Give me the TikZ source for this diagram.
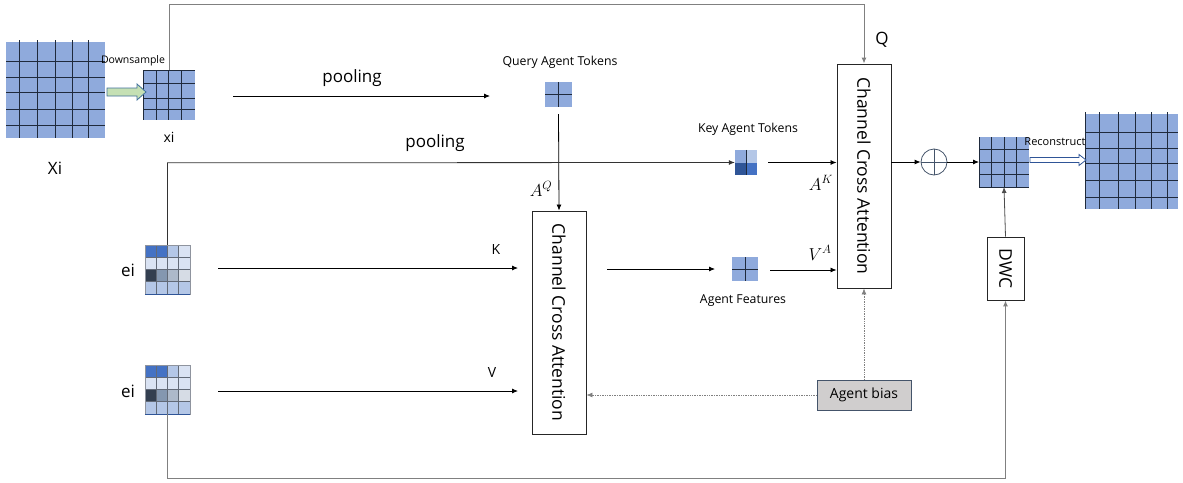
\documentclass[tikz,border=0pt]{standalone}
\usepackage{fontspec}
\setmainfont{Open Sans}
\usetikzlibrary{arrows.meta,calc}
\definecolor{gblue}{HTML}{8FAADC}
\definecolor{gridc}{HTML}{1F2A3C}
\definecolor{sA}{HTML}{4472C4}
\definecolor{lA}{HTML}{B4C7E7}
\definecolor{vA}{HTML}{DAE3F3}
\definecolor{dA}{HTML}{333F50}
\definecolor{gA}{HTML}{8497B0}
\definecolor{hA}{HTML}{ADB9CA}
\definecolor{eA}{HTML}{D6DCE5}
\definecolor{kA}{HTML}{2F5597}
\definecolor{dsfill}{HTML}{C5E0B4}
\definecolor{dsline}{HTML}{41719C}
\definecolor{loopc}{HTML}{808080}
\definecolor{biasfill}{HTML}{D0CECE}
\definecolor{biasline}{HTML}{44546A}
\begin{document}
\begin{tikzpicture}[x=1pt,y=-1pt,
  gl/.style={draw=gridc, line width=0.8pt},
  cell/.style={inner sep=0pt, outer sep=0pt, fill=gblue},
  arr/.style={-{Latex[length=6pt,width=5pt]}, line width=0.8pt, draw=black},
  loopline/.style={-{Latex[length=6pt,width=5pt]}, draw=loopc, line width=1pt},
  box/.style={draw=black!85, line width=0.9pt, inner sep=0pt, fill=white},
  lbl/.style={inner sep=0pt, outer sep=0pt},
  dotarr/.style={-{Latex[length=6pt,width=5pt]}, densely dotted, draw=gray, line width=0.7pt},
  cca/.style={font=\fontsize{17.5}{20}\selectfont},
  big/.style={font=\fontsize{17}{19}\selectfont},
  med/.style={font=\fontsize{14}{16}\selectfont},
  mth/.style={font=\fontsize{16.5}{18}\selectfont},
  small/.style={font=\fontsize{12.3}{14}\selectfont},
]
\useasboundingbox (0,0) rectangle (1183,482);

% ---------- grids ----------
\node[cell, minimum width=99pt, minimum height=96pt] (Xi) at (55.5,90) {};
\foreach \x in {19,37,55,72,88} \draw[gl] (\x,40) -- (\x,138);
\foreach \y in {61,77,92,109,125} \draw[gl] (6,\y) -- (105,\y);

\node[cell, minimum width=52pt, minimum height=50pt] (xi) at (169,95) {};
\foreach \x in {143,156,168,181} \draw[gl] (\x,70) -- (\x,120);
\foreach \y in {70,83,98,109} \draw[gl] (143,\y) -- (195,\y);

\node[cell, minimum width=50pt, minimum height=50pt] (mid) at (1004,162) {};
\foreach \x in {979,991.5,1004,1016.5} \draw[gl] (\x,137) -- (\x,187);
\foreach \y in {149.5,162,174.5,187} \draw[gl] (979,\y) -- (1029,\y);

\node[cell, minimum width=93pt, minimum height=95pt] (out) at (1131.5,161.5) {};
\foreach \x in {1085,1099,1118,1135,1151,1167} \draw[gl] (\x,112) -- (\x,209);
\foreach \y in {132,148,163,180,197} \draw[gl] (1085,\y) -- (1178,\y);

\node[cell, minimum width=27pt, minimum height=25pt] (qat) at (558.5,94.5) {};
\draw[gl, line width=0.7pt] (qat.north) -- (qat.south);
\draw[gl, line width=0.7pt] (qat.west) -- (qat.east);

\node[cell, minimum width=26pt, minimum height=24pt] (af) at (745,269) {};
\draw[gl, line width=0.7pt] (af.north) -- (af.south);
\draw[gl, line width=0.7pt] (af.west) -- (af.east);

\node[inner sep=0pt, minimum width=22pt, minimum height=25pt] (kat) at (746,162.5) {};
\fill[gblue] (kat.north west) rectangle (kat.center);
\fill[lA] (kat.north) rectangle (kat.east);
\fill[kA] (kat.west) rectangle (kat.south);
\fill[sA] (kat.center) rectangle (kat.south east);
\draw[gl, line width=0.7pt] (kat.north) -- (kat.south);

\foreach \nm/\cy in {ei1/269.5, ei2/389.5}{
  \node[inner sep=0pt, minimum width=45pt, minimum height=49pt] (\nm) at (167.5,\cy) {};
  \foreach \r/\cl in {0/{sA,sA,lA,vA}, 1/{vA,vA,vA,vA}, 2/{dA,gA,hA,eA}, 3/{lA,lA,lA,lA}}{
    \foreach \c [count=\j from 0] in \cl {
      \fill[\c] ($(\nm.north west)+(\j*11.25,\r*12.25)$) rectangle ++(11.25,12.25);
    }
  }
  \foreach \k in {1,2,3}{
    \draw[gridc!70, line width=0.6pt] ($(\nm.north west)+(\k*11.25,0)$) -- ++(0,49);
    \draw[gridc!70, line width=0.6pt] ($(\nm.north west)+(0,\k*12.25)$) -- ++(45,0);
  }
  \draw[gridc!50, line width=0.5pt] (\nm.north west) rectangle (\nm.south east);
  \draw[kA, line width=1pt] (\nm.south west) -- (\nm.south east);
}

% ---------- boxes ----------
\node[box, minimum width=54pt, minimum height=223pt] (cca1) at (559,322.5) {};
\node[lbl, rotate=-90, cca] (cca1t) at (cca1.center) {Channel Cross Attention};
\node[box, minimum width=54pt, minimum height=224pt] (cca2) at (864,176) {};
\node[lbl, rotate=-90, cca] (cca2t) at (cca2.center) {Channel Cross Attention};
\node[box, minimum width=37pt, minimum height=63pt] (dwc) at (1005.5,268.5) {};
\node[lbl, rotate=-90, cca] (dwct) at (dwc.center) {DWC};
\node[draw=biasline, fill=biasfill, line width=0.8pt, inner sep=0pt, minimum width=94pt, minimum height=30pt, font=\fontsize{14}{16}\selectfont] (bias) at (864,395) {Agent bias};

\node[circle, draw=biasline, line width=0.8pt, minimum size=26pt, inner sep=0pt] (plus) at (934,162) {};
\draw[biasline, line width=0.8pt] (plus.north) -- (plus.south) (plus.west) -- (plus.east);

% ---------- labels ----------
\node[lbl, font=\fontsize{10.5}{12}\selectfont] (dsl) at (133,61) {Downsample};
\node[lbl, med] (xil) at (169,137) {xi};
\node[lbl, big] (Xil) at (55,168) {Xi};
\node[lbl, big] (ql) at (882,40) {Q};
\node[lbl, big] (pool1) at (352,78) {pooling};
\node[lbl, big] (pool2) at (435,143) {pooling};
\node[lbl, small] (qatl) at (560,62) {Query Agent Tokens};
\node[lbl, small] (katl) at (748,129) {Key Agent Tokens};
\node[lbl, small] (afl) at (743,301) {Agent Features};
\node[lbl, mth] (aq) at (541,189) {$A^{Q}$};
\node[lbl, mth] (ak) at (821,183) {$A^{K}$};
\node[lbl, mth] (va) at (820,253) {$V^{A}$};
\node[lbl, med] (kl) at (496,249) {K};
\node[lbl, med] (vl) at (492,372) {V};
\node[lbl, big] (ei1l) at (128,270) {ei};
\node[lbl, big] (ei2l) at (128,391) {ei};
\node[lbl, font=\fontsize{11}{13}\selectfont] (recl) at (1055,142) {Reconstruct};

% ---------- block arrows ----------
\filldraw[fill=dsfill, draw=dsline, line width=0.8pt] ($(Xi.east)+(2,-2)$) -- ++(30,0) -- ++(0,-4) -- ++(9,8) -- ++(-9,8) -- ++(0,-4) -- ++(-30,0) -- cycle;
\filldraw[fill=white, draw=kA, line width=0.8pt] ($(mid.east)+(1,-4.5)$) -- ++(49,0) -- ++(0,-3) -- ++(7,5.5) -- ++(-7,5.5) -- ++(0,-3) -- ++(-49,0) -- cycle;

% ---------- connectors ----------
\coordinate (p1s) at (233,96);
\coordinate (p1e) at (490,96);
\draw[arr] (p1s) -- (p1e);
\draw[loopline] (xi.north) -- ++(0,-66) -| (cca2.north);
\draw[arr] ($(qat.south)+(0,7)$) -- (cca1.north);
\draw[arr, draw=black!80] (ei1.north) -- ++(0,-82) -- (kat.west);
\draw[arr] ($(kat.east)+(11,0)$) -- (cca2.west |- kat.east);
\coordinate (kS) at (218,268);
\coordinate (kE) at (518,268);
\draw[arr] (kS) -- (kE);
\coordinate (vS) at (218,391);
\coordinate (vE) at (518,391);
\draw[arr] (vS) -- (vE);
\draw[arr] ($(cca1.east |- af.west)+(21,0)$) -- ($(af.west)+(-17,0)$);
\draw[arr] ($(af.east)+(12,1)$) -- (cca2.west |- {$(af.east)+(0,1)$});
\draw[arr] (cca2.east |- plus.west) -- (plus.west);
\draw[arr] (plus.east) -- (mid.west |- plus.east);
\draw[arr, draw=black!70] (dwc.north) -- (mid.south);
\draw[loopline] (ei2.south) -- ++(0,64) -| (dwc.south);
\draw[dotarr] (bias.north) -- (cca2.south);
\draw[dotarr] (bias.west) -- (cca1.east |- bias.west);
\end{tikzpicture}
\end{document}
